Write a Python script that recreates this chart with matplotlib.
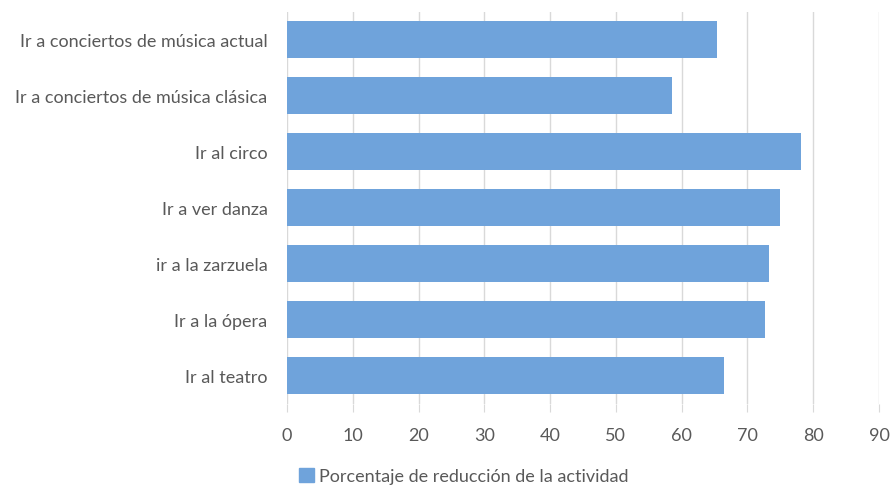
import matplotlib.pyplot as plt
from matplotlib.patches import Patch

categorias = ['Ir a conciertos de música actual', 'Ir a conciertos de música clásica',
              'Ir al circo', 'Ir a ver danza', 'ir a la zarzuela', 'Ir a la ópera', 'Ir al teatro']
valores = [65.3, 58.5, 78.1, 75.0, 73.3, 72.6, 66.4]
ticks_x = [0, 10, 20, 30, 40, 50, 60, 70, 80, 90]
serie = 'Porcentaje de reducción de la actividad'

azul = '#6fa3db'
gris_txt = '#595959'
gris_rej = '#d9d9d9'

plt.rcParams['font.family'] = ['Lato', 'DejaVu Sans']

fig = plt.figure(figsize=(8.92, 4.89), dpi=100)
ax = fig.add_axes([287 / 892, 1 - 404.5 / 489, (879 - 287) / 892, (404.5 - 12.5) / 489])

pos = list(range(len(categorias)))[::-1]
ax.barh(pos, valores, height=0.67, color=azul, zorder=2)

ax.set_xlim(0, 90)
ax.set_ylim(-0.5, len(categorias) - 0.5)
ax.set_xticks(ticks_x)
ax.set_yticks(pos)
ax.set_yticklabels(categorias)
ax.grid(axis='x', color=gris_rej, linewidth=1, zorder=0)
for s in ax.spines.values():
    s.set_visible(False)
ax.tick_params(axis='x', length=6, color=gris_rej, labelsize=13, labelcolor=gris_txt, pad=11)
ax.tick_params(axis='y', length=0, labelsize=13, labelcolor=gris_txt, pad=14)

fig.legend(handles=[Patch(color=azul, label=serie)], loc='lower center',
           bbox_to_anchor=(0.52, -0.025), frameon=False, fontsize=13,
           handlelength=0.8, handleheight=0.8, handletextpad=0.3, labelcolor=gris_txt)

fig.savefig('out.png', dpi=100)
